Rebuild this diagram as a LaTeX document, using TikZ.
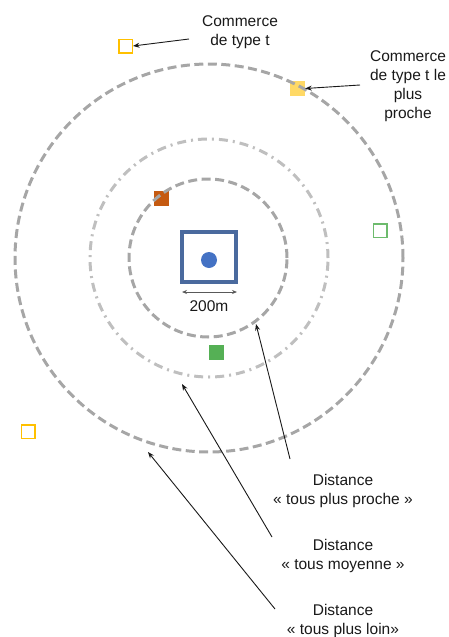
\documentclass[tikz,border=0pt]{standalone}
\usepackage{fontspec}
\setmainfont{Liberation Sans}
\usetikzlibrary{arrows.meta}
\definecolor{ringgray}{HTML}{A6A6A6}
\definecolor{ringlight}{HTML}{BFBFBF}
\definecolor{framblue}{HTML}{4A6A9E}
\definecolor{dotblue}{HTML}{4472C4}
\definecolor{goldline}{HTML}{FFC000}
\definecolor{goldfill}{HTML}{FFD966}
\definecolor{greenline}{HTML}{6DBB6D}
\definecolor{greenfill}{HTML}{55B055}
\definecolor{brownfill}{HTML}{C55A11}
\tikzset{
  ring/.style={circle, draw=ringgray, line width=3pt, dash pattern=on 9pt off 4.5pt, inner sep=0pt},
  ringdd/.style={circle, draw=ringlight, line width=3pt, dash pattern=on 9pt off 5pt on 2pt off 5pt, inner sep=0pt},
  shopopen/.style={rectangle, draw=#1, line width=1.5pt, fill=white, minimum size=13.5pt, inner sep=0pt},
  shopfull/.style={rectangle, fill=#1, minimum size=15pt, inner sep=0pt},
  lbl/.style={align=center, font=\fontsize{15.5}{19}\selectfont, text=black!90, inner sep=0pt},
  pointer/.style={-{Stealth[length=6.5pt,width=5pt]}, line width=0.9pt, black!90}
}
\begin{document}
\begin{tikzpicture}[x=1pt,y=-1pt]
\useasboundingbox (0,0) rectangle (449,637);
% shops
\node[shopopen=goldline] (s1) at (125.5,46) {};
\node[shopfull=goldfill] (s2) at (297.5,88.5) {};
\node[shopfull=brownfill] (s3) at (161,198.5) {};
\node[shopopen=greenline] (s4) at (380,230.5) {};
\node[shopfull=greenfill] (s5) at (216.5,352.5) {};
\node[shopopen=goldline] (s6) at (28,431.5) {};
% rings (drawn over the shops, as in the reference)
\node[ring, minimum size=388pt] (outer) at (209,258) {};
\node[ringdd, minimum size=238pt] (middle) at (209,258) {};
\node[ring, minimum size=158pt] (inner) at (208,258) {};
% central block
\node[rectangle, draw=framblue, line width=4pt, minimum width=54pt, minimum height=50pt, inner sep=0pt] (block) at (209,257) {};
\node[circle, fill=dotblue, minimum size=16pt, inner sep=0pt] (dot) at (209,260) {};
\coordinate (dl) at (182,292);
\coordinate (dr) at (237,292);
\draw[{Stealth[length=5pt,width=4pt]}-{Stealth[length=5pt,width=4pt]}, line width=0.8pt, black!65] (dl) -- (dr);
\node[lbl] (dim) at (209,306) {200m};
% labels
\node[lbl] (c1) at (240,32) {Commerce\\de type t};
\node[lbl] (c2) at (408,86.5) {Commerce\\de type t le\\plus\\proche};
\node[lbl] (d1) at (343,491) {Distance\\« tous plus proche »};
\node[lbl] (d2) at (343,556) {Distance\\« tous moyenne »};
\node[lbl] (d3) at (343,621) {Distance\\« tous plus loin»};
% arrow ends
\coordinate (a1) at (189,39);
\coordinate (a2) at (360,85);
\coordinate (b1) at (290,459);
\coordinate (b2) at (272,537);
\coordinate (b3) at (275,609);
\coordinate (t1) at (256,324);
\coordinate (t2) at (182,384);
\coordinate (t3) at (148,452);
\draw[pointer] (a1) -- (s1.east);
\draw[pointer] (a2) -- (s2.east);
\draw[pointer] (b1) -- (t1);
\draw[pointer] (b2) -- (t2);
\draw[pointer] (b3) -- (t3);
\end{tikzpicture}
\end{document}
